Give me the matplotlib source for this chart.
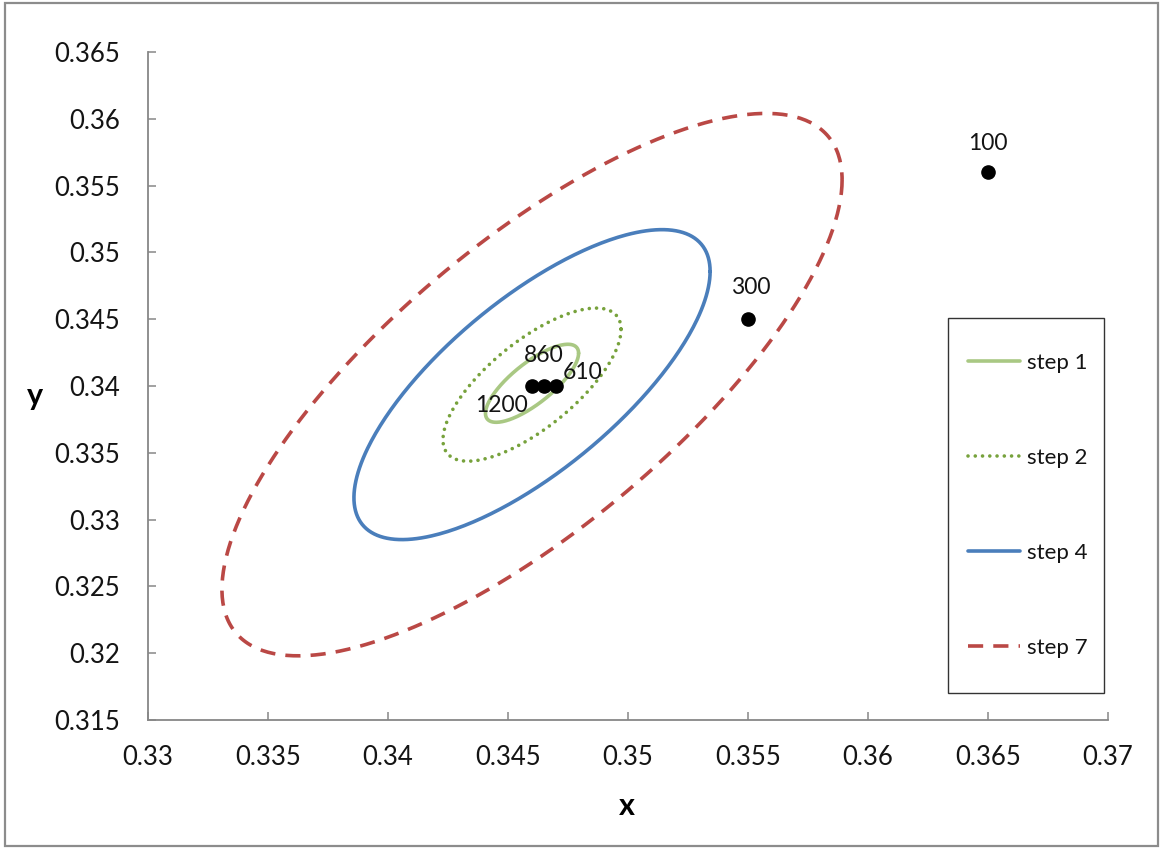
import numpy as np
import matplotlib
matplotlib.use("Agg")
import matplotlib.pyplot as plt
from matplotlib.patches import Rectangle
from matplotlib.ticker import MultipleLocator, FuncFormatter

# confidence ellipses per iteration step: centre, half-extent in x / y, correlation
step_names = ["step 1", "step 2", "step 4", "step 7"]
ell_cx = [0.3460, 0.3460, 0.3460, 0.3460]
ell_cy = [0.3402, 0.3401, 0.3401, 0.3401]
ell_sx = [0.00194, 0.00371, 0.00742, 0.01292]
ell_sy = [0.00292, 0.00573, 0.01160, 0.02030]
ell_rho = [0.77, 0.72, 0.73, 0.755]

# estimates with their sample sizes
pt_x = [0.365, 0.355, 0.347, 0.3465, 0.346]
pt_y = [0.356, 0.345, 0.340, 0.340, 0.340]
pt_labels = ["100", "300", "610", "860", "1200"]

_C = {
    "step 1": "#A9C883",
    "step 2": "#77A23C",
    "step 4": "#4A7EBB",
    "step 7": "#BA4845",
    "axis":   "#878787",
    "text":   "#141414",
}
_STYLE = {
    "step 1": dict(lw=2.6, ls="-", cap="round"),
    "step 2": dict(lw=2.6, ls=(0, (0.01, 2.0)), cap="round"),
    "step 4": dict(lw=2.6, ls="-", cap="round"),
    "step 7": dict(lw=2.6, ls=(0, (4.2, 2.8)), cap="butt"),
}
# label offsets (points) relative to each marker
_LABEL_OFF = {"100": (0, 21), "300": (2, 23), "610": (19, 10),
              "860": (0, 22), "1200": (-22, -14)}

plt.rcParams.update({
    "font.family": ["Lato", "DejaVu Sans"],
    "font.size": 18,
    "text.color": _C["text"],
})


def _ellipse(cx, cy, sx, sy, rho, n=360):
    t = np.linspace(0, 2 * np.pi, n)
    d = np.arccos(rho)
    return cx + sx * np.cos(t), cy + sy * np.cos(t + d)


fig = plt.figure(figsize=(11.6, 8.49), dpi=100)
ax = fig.add_axes([0.1276, 0.152, 0.8276, 0.7868])

for name, cx, cy, sx, sy, r in zip(step_names, ell_cx, ell_cy, ell_sx, ell_sy, ell_rho):
    ex, ey = _ellipse(cx, cy, sx, sy, r)
    st = _STYLE[name]
    ax.plot(ex, ey, color=_C[name], lw=st["lw"], linestyle=st["ls"],
            solid_capstyle="round", dash_capstyle=st["cap"],
            label=name, zorder=2)

ax.plot(pt_x, pt_y, "o", color="black", ms=9.5, zorder=3)
for x, y, lab in zip(pt_x, pt_y, pt_labels):
    ax.annotate(lab, (x, y), xytext=_LABEL_OFF[lab], textcoords="offset points",
                ha="center", va="center", fontsize=16.5, zorder=4)

ax.set_xlim(0.33, 0.37)
ax.set_ylim(0.315, 0.365)
ax.xaxis.set_major_locator(MultipleLocator(0.005))
ax.yaxis.set_major_locator(MultipleLocator(0.005))
fmt = FuncFormatter(lambda v, _: f"{round(v, 4):g}")
ax.xaxis.set_major_formatter(fmt)
ax.yaxis.set_major_formatter(fmt)

for side in ("top", "right"):
    ax.spines[side].set_visible(False)
for side in ("left", "bottom"):
    ax.spines[side].set_color(_C["axis"])
    ax.spines[side].set_linewidth(1.3)
ax.tick_params(direction="in", length=6, width=1.1, color=_C["axis"],
               labelsize=18.5, labelcolor=_C["text"])
ax.tick_params(axis="y", pad=20)
ax.tick_params(axis="x", pad=18)

ax.set_xlabel("x", fontsize=22, fontweight="bold")
ax.set_ylabel("y", fontsize=22, fontweight="bold", rotation=0, va="center", ha="center")
ax.xaxis.set_label_coords(0.499, -0.108)
ax.yaxis.set_label_coords(-0.118, 0.485)

# legend entries sit in a fixed box on the right
leg = ax.legend(loc="center left", bbox_to_anchor=(0.8345, 0.4046),
                bbox_transform=fig.transFigure, fontsize=16, frameon=False,
                handlelength=2.35, handletextpad=0.3, labelspacing=3.38,
                borderpad=0, borderaxespad=0)
fig.add_artist(Rectangle((0.8172, 0.1837), 0.1345, 0.4417, transform=fig.transFigure,
                         fill=False, edgecolor="#333333", lw=1.0))

# chart-area border
fig.add_artist(Rectangle((0.004, 0.003), 0.994, 0.993, transform=fig.transFigure,
                         fill=False, edgecolor="#8C8C8C", lw=1.6))

fig.savefig("out.png", dpi=100)
